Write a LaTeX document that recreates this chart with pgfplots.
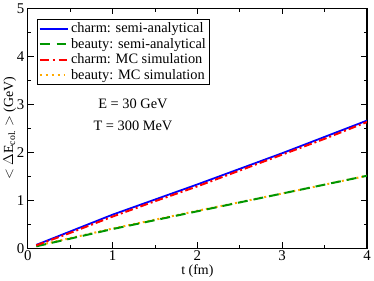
\documentclass[border=0pt]{standalone}
\usepackage{pgfplots}
\pgfplotsset{compat=1.18}
\usepackage{fontspec}
\setmainfont{Liberation Serif}
\definecolor{cgreen}{RGB}{0,150,0}
\definecolor{corange}{RGB}{255,170,0}
\begin{document}
\begin{tikzpicture}
\begin{axis}[
  scale only axis,
  width=342pt, height=242pt,
  xmin=0, xmax=4, ymin=0, ymax=5,
  xtick={0,1,2,3,4}, ytick={0,1,2,3,4,5},
  minor xtick={0.5,1.5,2.5,3.5}, minor ytick={0.5,1.5,2.5,3.5,4.5},
  tick align=inside, tick pos=both,
  major tick length=6pt, minor tick length=3.5pt,
  axis line style={line width=1.2pt},
  every tick/.style={line width=1pt, black},
  /pgf/number format/assume math mode=true,
  ticklabel style={font=\fontsize{15}{15}\selectfont},
  xticklabel style={yshift=1pt},
  xlabel={t (fm)}, ylabel={$<$ $\Delta$E\textsubscript{col.} $>$ (GeV)},
  label style={font=\fontsize{14}{14}\selectfont},
  xlabel style={yshift=3pt},
  ylabel style={yshift=-6pt},
  legend style={at={(0.026,0.955)}, anchor=north west, draw=black, line width=1pt,
    font=\fontsize{14.5}{14.5}\selectfont, inner sep=1.5pt, row sep=0pt},
  legend cell align=left,
]
\addplot[draw=blue, line width=1.8pt, forget plot] coordinates {(0.1,0.07) (1,0.70) (2,1.33) (3,1.98) (4,2.66)};
\addplot[draw=corange, line width=2pt, dash pattern=on 2pt off 3pt, forget plot] coordinates {(0.1,0.05) (1,0.41) (2,0.78) (3,1.14) (4,1.51)};
\addplot[draw=cgreen, line width=2pt, dash pattern=on 10pt off 6pt, forget plot] coordinates {(0.1,0.04) (1,0.40) (2,0.77) (3,1.14) (4,1.51)};
\addplot[draw=red, line width=2pt, dash pattern=on 8pt off 3pt on 2pt off 3pt, forget plot] coordinates {(0.1,0.06) (0.5,0.32) (1,0.66) (1.5,0.98) (2,1.29) (2.5,1.62) (3,1.95) (3.5,2.28) (4,2.63)};
\addlegendimage{legend image code/.code={\draw[blue, line width=1.8pt] (0cm,0cm) -- (1cm,0cm);}}
\addlegendentry{charm: semi-analytical}
\addlegendimage{legend image code/.code={\draw[cgreen, line width=2.2pt, dash pattern=on 10pt off 7pt] (0cm,0cm) -- (1cm,0cm);}}
\addlegendentry{beauty: semi-analytical}
\addlegendimage{legend image code/.code={\draw[red, line width=2pt, dash pattern=on 9pt off 4pt on 2pt off 4pt] (0cm,0cm) -- (1cm,0cm);}}
\addlegendentry{charm: MC simulation}
\addlegendimage{legend image code/.code={\draw[corange, line width=2.2pt, dash pattern=on 2pt off 4pt] (0cm,0cm) -- (1cm,0cm);}}
\addlegendentry{beauty: MC simulation}
\node[font=\fontsize{14.5}{14.5}\selectfont] at (axis cs:1.24,3.0) {E = 30 GeV};
\node[font=\fontsize{14.5}{14.5}\selectfont] at (axis cs:1.24,2.56) {T = 300 MeV};
\end{axis}
\end{tikzpicture}
\end{document}
